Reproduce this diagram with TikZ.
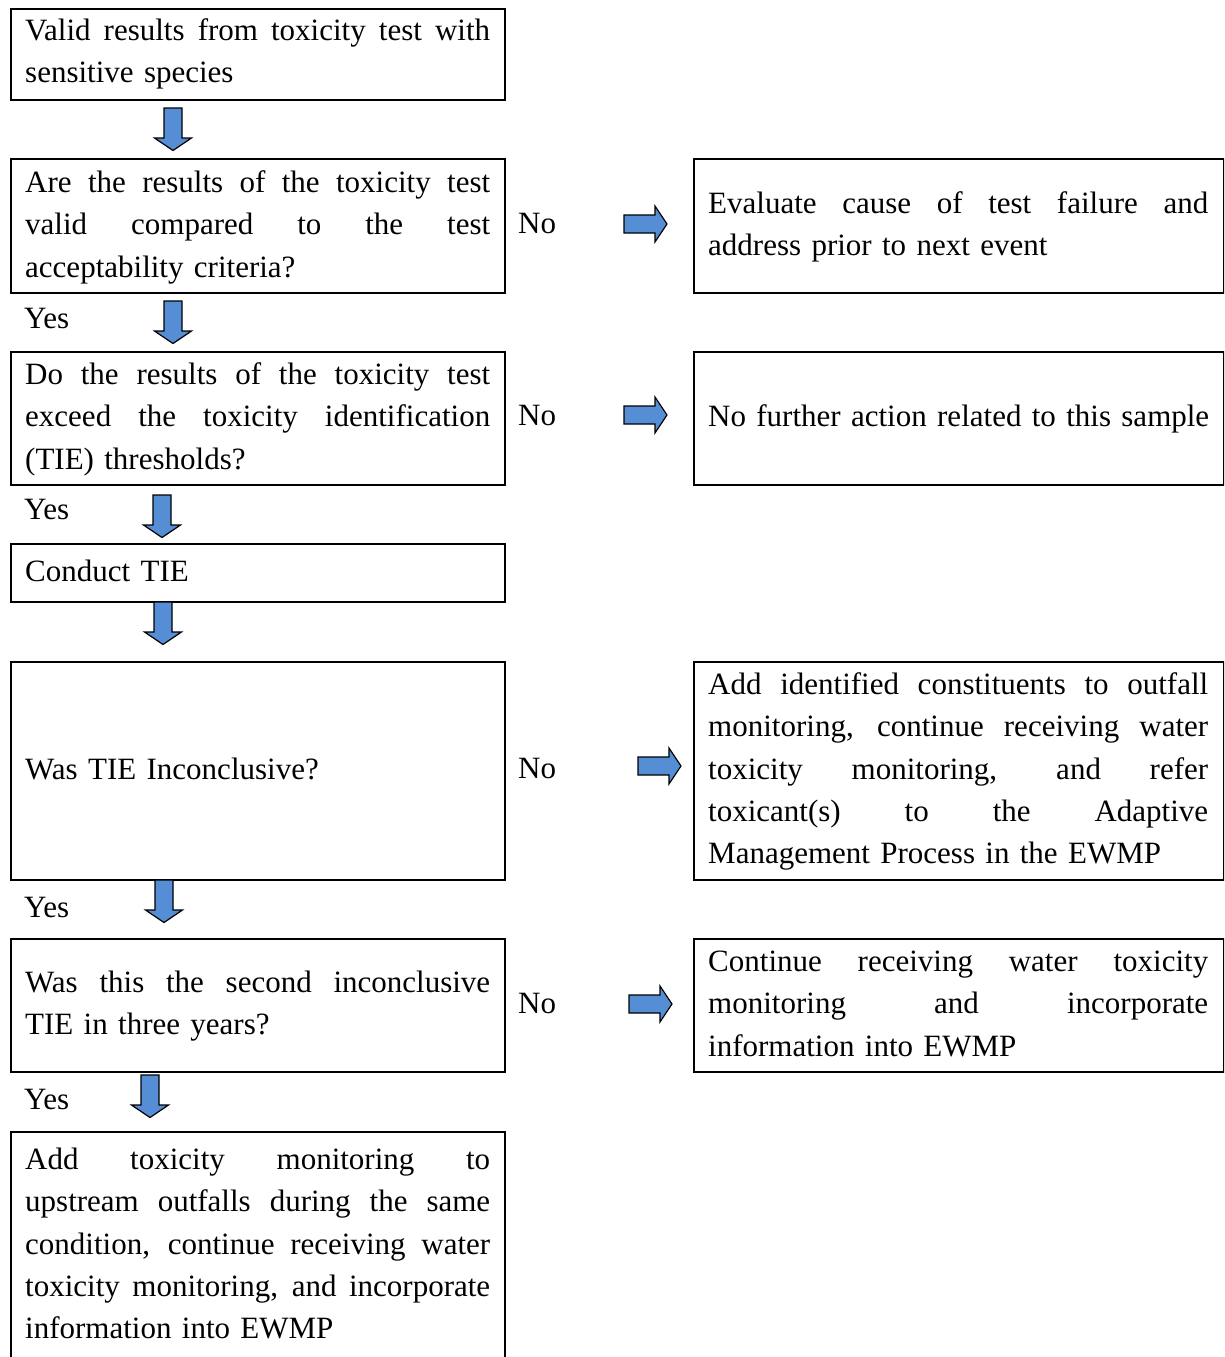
\documentclass[tikz,border=0pt]{standalone}
\usepackage{fontspec}
\setmainfont{Liberation Serif}
\hbadness=10000
\hfuzz=20pt
\newcommand{\jl}[1]{\leavevmode\hbox to 465pt{\spaceskip=0.25em plus 1fil\relax #1}\\}
\newcommand{\jr}[1]{\leavevmode\hbox to 500pt{\spaceskip=0.25em plus 1fil\relax #1}\\}
\newcommand{\fst}{\rule{0pt}{24pt}}
\definecolor{arrblue}{RGB}{85,142,213}
\tikzset{
  box/.style={draw=black, line width=1.8pt, anchor=north west, inner sep=0pt},
  txt/.style={anchor=north west, inner sep=0pt, text width=465pt, align=left,
              font=\fontsize{31}{42.4}\selectfont},
  rtxt/.style={txt, text width=500pt},
  lbl/.style={anchor=base west, inner sep=0pt, font=\fontsize{31}{42.4}\selectfont},
  arrstyle/.style={draw=black, line width=1.2pt, fill=arrblue, line join=miter},
  darr/.pic={\path[arrstyle] (-9,0) -- (9,0) -- (9,30) -- (18.5,30) -- (0,42.5) -- (-18.5,30) -- (-9,30) -- cycle;},
  rarr/.pic={\path[arrstyle] (0,-9) -- (31,-9) -- (31,-18) -- (43,0) -- (31,18) -- (31,9) -- (0,9) -- cycle;}
}
\begin{document}
\begin{tikzpicture}[x=1pt,y=-1pt]
\useasboundingbox (0,0) rectangle (1224,1357);
\begin{scope}
\clip (0,0) rectangle (1224,1357);
% left boxes
\node[box, minimum width=494pt, minimum height=91pt]  (b1) at (10,8) {};
\node[box, minimum width=494pt, minimum height=134pt] (b2) at (10,158) {};
\node[box, minimum width=494pt, minimum height=133pt] (b3) at (10,351) {};
\node[box, minimum width=494pt, minimum height=58pt]  (b4) at (10,543) {};
\node[box, minimum width=494pt, minimum height=218pt] (b5) at (10,661) {};
\node[box, minimum width=494pt, minimum height=133pt] (b6) at (10,938) {};
\node[box, minimum width=494pt, minimum height=240pt] (b7) at (10,1131) {};
% right boxes
\node[box, minimum width=530pt, minimum height=134pt] (r1) at (693,158) {};
\node[box, minimum width=530pt, minimum height=133pt] (r2) at (693,351) {};
\node[box, minimum width=530pt, minimum height=218pt] (r3) at (693,661) {};
\node[box, minimum width=530pt, minimum height=133pt] (r4) at (693,938) {};
\end{scope}
% texts
\node[txt] (t1) at (25,16) {\fst\jl{Valid results from toxicity test with}sensitive species};
\node[txt] (t2) at (25,168) {\fst\jl{Are the results of the toxicity test}\jl{valid compared to the test}acceptability criteria?};
\node[txt] (t3) at (25,360) {\fst\jl{Do the results of the toxicity test}\jl{exceed the toxicity identification}(TIE) thresholds?};
\node[txt] (t4) at (25,557) {\fst Conduct TIE};
\node[txt] (t5) at (25,755) {\fst Was TIE Inconclusive?};
\node[txt] (t6) at (25,968) {\fst\jl{Was this the second inconclusive}TIE in three years?};
\node[txt] (t7) at (25,1145) {\fst\jl{Add toxicity monitoring to}\jl{upstream outfalls during the same}\jl{condition, continue receiving water}\jl{toxicity monitoring, and incorporate}information into EWMP};
\node[rtxt] (tr1) at (708,189) {\fst\jr{Evaluate cause of test failure and}address prior to next event};
\node[rtxt] (tr2) at (708,402) {\fst\mbox{No further action related to this sample}};
\node[rtxt] (tr3) at (708,670) {\fst\jr{Add identified constituents to outfall}\jr{monitoring, continue receiving water}\jr{toxicity monitoring, and refer}\jr{toxicant(s) to the Adaptive}Management Process in the EWMP};
\node[rtxt] (tr4) at (708,947) {\fst\jr{Continue receiving water toxicity}\jr{monitoring and incorporate}information into EWMP};
% labels
\node[lbl] (n1) at (518,233) {No};
\node[lbl] (n2) at (518,425) {No};
\node[lbl] (n3) at (518,778) {No};
\node[lbl] (n4) at (518,1013) {No};
\node[lbl] (y1) at (24,328) {Yes};
\node[lbl] (y2) at (24,519) {Yes};
\node[lbl] (y3) at (24,917) {Yes};
\node[lbl] (y4) at (24,1109) {Yes};
% down arrows
\pic at (173,108) {darr};
\pic at (173,301) {darr};
\pic at (162,495) {darr};
\pic at (163,602) {darr};
\pic at (164,880) {darr};
\pic at (150,1075) {darr};
% right arrows
\pic at (624,224) {rarr};
\pic at (624,415) {rarr};
\pic at (638,766) {rarr};
\pic at (629,1004) {rarr};
\end{tikzpicture}
\end{document}
